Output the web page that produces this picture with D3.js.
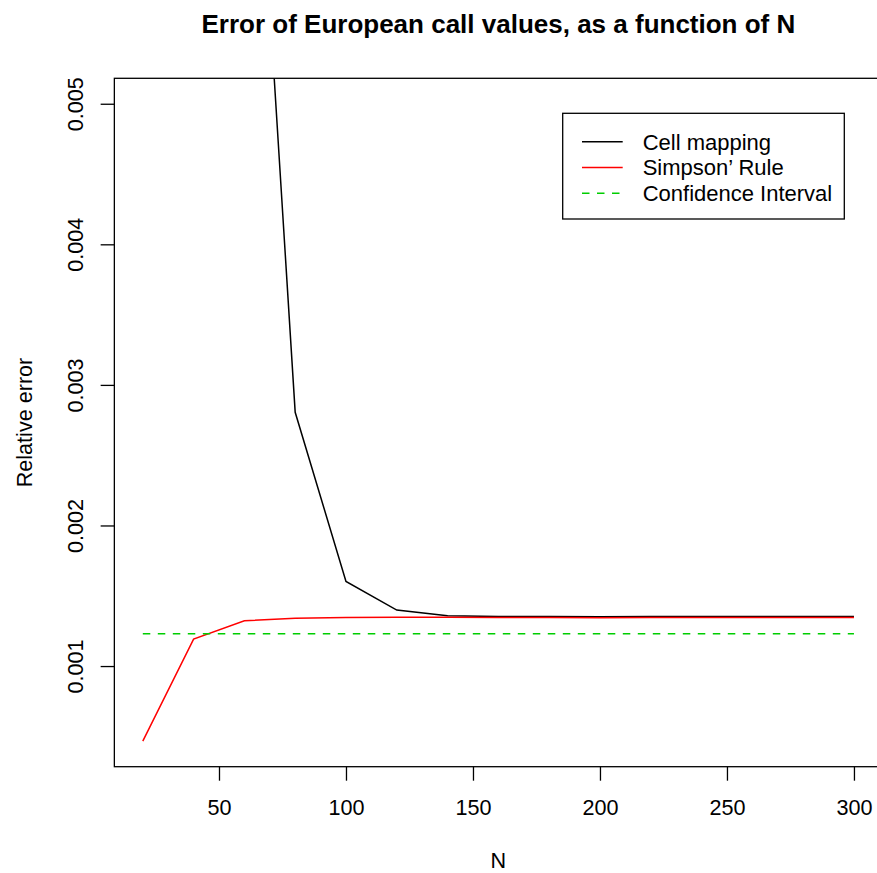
<!DOCTYPE html>
<html>
<head>
<meta charset="utf-8">
<script src="https://cdn.jsdelivr.net/npm/d3@7"></script>
<style>
  html, body { margin: 0; padding: 0; background: #fff; }
  svg text { font-family: "Liberation Sans", Arial, Helvetica, sans-serif; fill: #000; }
</style>
</head>
<body>
<svg id="chart" width="877" height="873"></svg>
<script>
// Grid sizes N and relative errors of the two pricing methods
const gridN = [20, 40, 60, 80, 100, 120, 140, 160, 180, 200, 220, 240, 260, 280, 300];
const cellMapping = [0.0335, 0.0172, 0.00856, 0.002805, 0.001602, 0.001398, 0.001358,
                     0.001353, 0.001352, 0.001351, 0.001352, 0.001352, 0.001352, 0.001352, 0.001352];
const simpsonRule = [0.000466, 0.001192, 0.001322, 0.001340, 0.001345, 0.001348, 0.001347,
                     0.001346, 0.001345, 0.001344, 0.001345, 0.001346, 0.001346, 0.001346, 0.001346];
const confidenceLevel = 0.00123;

const xTicks = [50, 100, 150, 200, 250, 300];
const yTicks = [0.001, 0.002, 0.003, 0.004, 0.005];
const legendLabels = ["Cell mapping", "Simpson\u2019 Rule", "Confidence Interval"];

const svg = d3.select("#chart");
const plot = { left: 114.35, right: 882.4, top: 78.3, bottom: 766.7 };

// x axis padded 4% on both sides of the data range
const xMin = 20, xMax = 300, xPad = (xMax - xMin) * 0.04;
const x = d3.scaleLinear().domain([xMin - xPad, xMax + xPad]).range([plot.left, plot.right]);
const y = d3.scaleLinear().domain([0.000284, 0.005181]).range([plot.bottom, plot.top]);

svg.append("defs").append("clipPath").attr("id", "plotClip")
  .append("rect")
  .attr("x", plot.left).attr("y", plot.top)
  .attr("width", plot.right - plot.left).attr("height", plot.bottom - plot.top);

const fontSize = 21.6;

// Title
svg.append("text")
  .attr("x", (plot.left + plot.right) / 2).attr("y", 33.3)
  .attr("text-anchor", "middle")
  .style("font-size", "26px").style("font-weight", "bold")
  .text("Error of European call values, as a function of N");

// Series
const g = svg.append("g").attr("clip-path", "url(#plotClip)");
const line = d3.line().x((d, i) => x(gridN[i])).y(d => y(d));

g.append("path").datum(cellMapping)
  .attr("d", line).attr("fill", "none")
  .attr("stroke", "#000").attr("stroke-width", 1.5);

g.append("path").datum(simpsonRule)
  .attr("d", line).attr("fill", "none")
  .attr("stroke", "#ff0000").attr("stroke-width", 1.5);

g.append("line")
  .attr("x1", x(gridN[0])).attr("x2", x(gridN[gridN.length - 1]))
  .attr("y1", y(confidenceLevel)).attr("y2", y(confidenceLevel))
  .attr("stroke", "#00cd00").attr("stroke-width", 1.5)
  .attr("stroke-dasharray", "7.5,7.5");

// Axes
const xAxis = d3.axisBottom(x).tickValues(xTicks).tickSize(14).tickPadding(18.6)
  .tickFormat(d3.format("d"));
const xg = svg.append("g").attr("transform", `translate(0,${plot.bottom})`).call(xAxis);
xg.select(".domain").remove();
xg.selectAll("text").style("font-size", fontSize + "px").attr("font-family", null);
xg.selectAll("line").attr("stroke", "#000").attr("stroke-width", 1.3);

const yAxis = d3.axisLeft(y).tickValues(yTicks).tickSize(13.7).tickFormat(d3.format(".3f"));
const yg = svg.append("g").attr("transform", `translate(${plot.left},0)`).call(yAxis);
yg.select(".domain").remove();
yg.selectAll("line").attr("stroke", "#000").attr("stroke-width", 1.3);
yg.selectAll("text")
  .attr("x", null).attr("dy", null)
  .attr("text-anchor", "middle")
  .attr("transform", "translate(-31.05,0) rotate(-90)")
  .style("font-size", fontSize + "px").attr("font-family", null);

// Plot box
svg.append("rect")
  .attr("x", plot.left).attr("y", plot.top)
  .attr("width", plot.right - plot.left).attr("height", plot.bottom - plot.top)
  .attr("fill", "none").attr("stroke", "#000").attr("stroke-width", 1.3);

// Axis titles
svg.append("text")
  .attr("x", (plot.left + plot.right) / 2).attr("y", 868.3)
  .attr("text-anchor", "middle").style("font-size", fontSize + "px")
  .text("N");

svg.append("text")
  .attr("transform", `translate(31.5,${(plot.top + plot.bottom) / 2}) rotate(-90)`)
  .attr("text-anchor", "middle").style("font-size", fontSize + "px")
  .text("Relative error");

// Legend
const legend = svg.append("g");
legend.append("rect")
  .attr("x", 562.7).attr("y", 113.3).attr("width", 844.3 - 562.7).attr("height", 219 - 113.3)
  .attr("fill", "#fff").attr("stroke", "#000").attr("stroke-width", 1.3);
const legendStyles = [
  { color: "#000", dash: null },
  { color: "#ff0000", dash: null },
  { color: "#00cd00", dash: "7.5,7.5" }
];
const rowY = [141.7, 167.5, 193.3];
legendLabels.forEach((label, i) => {
  legend.append("line")
    .attr("x1", 582).attr("x2", 622.7)
    .attr("y1", rowY[i]).attr("y2", rowY[i])
    .attr("stroke", legendStyles[i].color).attr("stroke-width", 1.5)
    .attr("stroke-dasharray", legendStyles[i].dash);
  legend.append("text")
    .attr("x", 642.7).attr("y", rowY[i]).attr("dy", "0.36em")
    .style("font-size", "22px")
    .text(label);
});
</script>
</body>
</html>
